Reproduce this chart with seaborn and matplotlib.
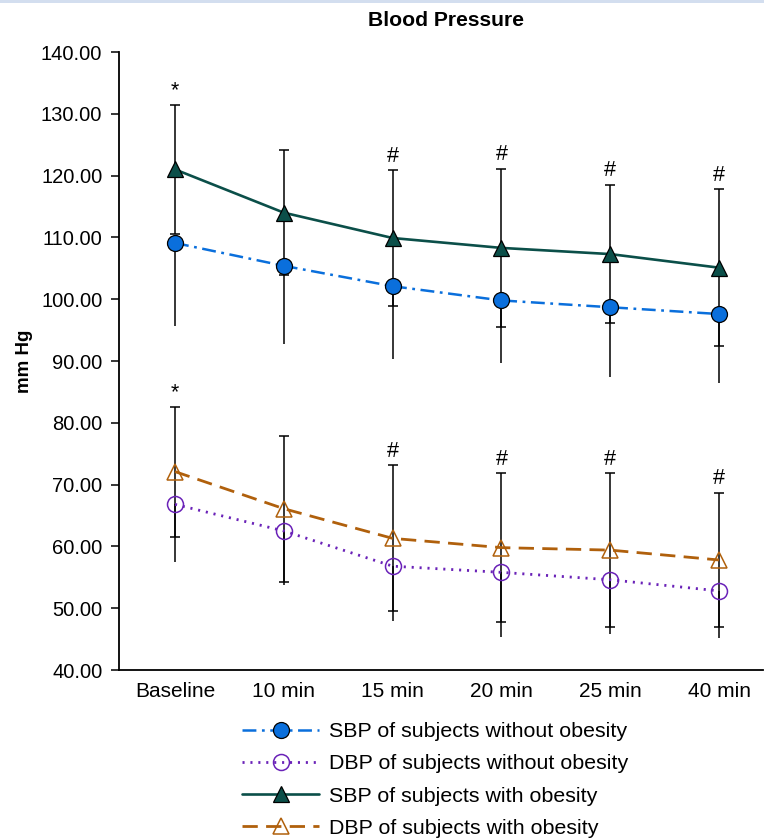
import numpy as np
import pandas as pd
import matplotlib
matplotlib.use("Agg")
import matplotlib.pyplot as plt
import seaborn as sns
from matplotlib.patches import Rectangle

# ---------------- data ----------------
times = ["Baseline", "10 min", "15 min", "20 min", "25 min", "40 min"]

sbp_non = [109.1, 105.4, 102.1, 99.8, 98.7, 97.6]
sbp_non_sd = [13.4, 12.6, 11.7, 10.2, 11.3, 11.2]

dbp_non = [66.8, 62.5, 56.8, 55.8, 54.6, 52.8]
dbp_non_sd = [9.3, 8.8, 8.9, 10.5, 8.8, 7.7]

sbp_ob = [121.0, 114.0, 109.9, 108.3, 107.3, 105.1]
sbp_ob_sd = [10.5, 10.1, 11.0, 12.8, 11.2, 12.7]

dbp_ob = [72.1, 66.1, 61.3, 59.8, 59.4, 57.8]
dbp_ob_sd = [10.5, 11.8, 11.8, 12.0, 12.4, 10.9]

sbp_marks = ["*", "", "#", "#", "#", "#"]
dbp_marks = ["*", "", "#", "#", "#", "#"]

labels = ["SBP of subjects without obesity", "DBP of subjects without obesity",
          "SBP of subjects with obesity", "DBP of subjects with obesity"]

# ---------------- style ----------------
sns.set_theme(style="white")
plt.rcParams['font.family'] = ['Liberation Sans', 'DejaVu Sans']
plt.rcParams['lines.scale_dashes'] = False
plt.rcParams['text.color'] = 'black'

W, H = 764, 839
fig = plt.figure(figsize=(W / 100, H / 100), dpi=100)
fig.patch.set_facecolor("white")
fig.patches.append(Rectangle((0, 1 - 3 / H), 1, 3 / H, transform=fig.transFigure,
                             facecolor="#d3deef", edgecolor="none", zorder=0))

ax = fig.add_axes([119 / W, 1 - 670 / H, (763 - 119) / W, (670 - 52) / H])

x = np.arange(len(times))

c_blue = "#0a6fdc"
c_teal = "#0b4f49"
c_purple = "#6a22b8"
c_brown = "#b0600c"

# error bars (behind markers)
eb = dict(fmt="none", ecolor="black", elinewidth=1.1, zorder=2)
ax.errorbar(x, sbp_non, yerr=[sbp_non_sd, [0] * len(x)], capsize=0, **eb)
ax.errorbar(x, dbp_non, yerr=[dbp_non_sd, [0] * len(x)], capsize=0, **eb)
ax.errorbar(x, sbp_ob, yerr=sbp_ob_sd, capsize=3.4, capthick=1.1, **eb)
ax.errorbar(x, dbp_ob, yerr=dbp_ob_sd, capsize=3.4, capthick=1.1, **eb)

series = [
    (sbp_non, labels[0], dict(color=c_blue, linestyle=(0, (10, 4, 2, 4)), linewidth=1.8,
                               marker="o", markersize=11.5, markerfacecolor=c_blue,
                               markeredgecolor="black", markeredgewidth=0.9)),
    (dbp_non, labels[1], dict(color=c_purple, linestyle=(0, (1.5, 4.2)), linewidth=2.0,
                               marker="o", markersize=11.5, markerfacecolor="none",
                               markeredgecolor=c_purple, markeredgewidth=1.1)),
    (sbp_ob, labels[2], dict(color=c_teal, linestyle="-", linewidth=1.9,
                              marker="^", markersize=11.5, markerfacecolor=c_teal,
                              markeredgecolor="black", markeredgewidth=0.9)),
    (dbp_ob, labels[3], dict(color=c_brown, linestyle=(0, (11, 6)), linewidth=2.0,
                              marker="^", markersize=11.5, markerfacecolor="none",
                              markeredgecolor=c_brown, markeredgewidth=1.1)),
]
for vals, lab, kw in series:
    df = pd.DataFrame({"x": x, "y": vals})
    sns.lineplot(data=df, x="x", y="y", ax=ax, label=lab, zorder=3, **kw)

# significance marks
for xi, v, sd, m in zip(x, sbp_ob, sbp_ob_sd, sbp_marks):
    if m:
        ax.annotate(m, (xi, v + sd), xytext=(0, 2.5), textcoords="offset points",
                    ha="center", va="bottom", fontsize=15.5, color="black")
for xi, v, sd, m in zip(x, dbp_ob, dbp_ob_sd, dbp_marks):
    if m:
        ax.annotate(m, (xi, v + sd), xytext=(0, 2.5), textcoords="offset points",
                    ha="center", va="bottom", fontsize=15.5, color="black")

# axes
ax.set_xlim(-0.515, 5.404)
ax.set_ylim(40, 140)
ax.set_yticks(np.arange(40, 141, 10))
ax.yaxis.set_major_formatter(matplotlib.ticker.FormatStrFormatter("%.2f"))
ax.set_xticks(x)
ax.set_xticklabels(times)
ax.tick_params(axis="y", which="major", length=6, width=1.1, color="black",
               pad=6.0, labelsize=14.5, labelcolor="black", left=True)
ax.tick_params(axis="x", which="major", length=0, pad=8.5, labelsize=15, labelcolor="black")
for s in ["top", "right"]:
    ax.spines[s].set_visible(False)
for s in ["left", "bottom"]:
    ax.spines[s].set_color("black")
    ax.spines[s].set_linewidth(1.3)
ax.set_xlabel("")
ax.set_ylabel("mm Hg", fontsize=13.5, fontweight="bold", color="black")
ax.yaxis.set_label_coords(-0.133, 0.5)
ax.grid(False)

fig.text(446 / W, 1 - 26 / H, "Blood Pressure", ha="center", va="baseline",
         fontsize=15.2, fontweight="bold", color="black")

# legend
handles, labs = ax.get_legend_handles_labels()
if ax.legend_:
    ax.legend_.remove()
fig.legend(handles, labs, loc="upper left", bbox_to_anchor=(242 / W, 1 - 722 / H),
           frameon=False, fontsize=15.4, handlelength=3.6, handletextpad=0.45,
           labelspacing=0.62, borderpad=0, borderaxespad=0, labelcolor="black")

fig.savefig("out.png", dpi=100)
